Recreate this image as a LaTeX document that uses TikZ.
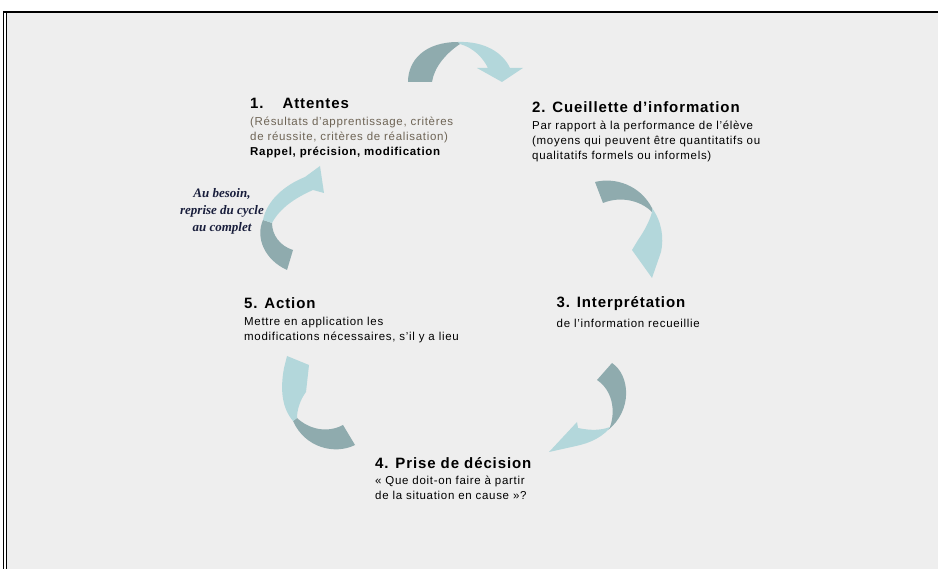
\documentclass[tikz,border=0pt]{standalone}
\usepackage{fontspec}
\setmainfont[LetterSpace=6]{Liberation Sans}
\newfontfamily\notefont{Liberation Serif}
\usepackage{tikz}

\definecolor{panelgray}{HTML}{EEEEEE}
\definecolor{tealdark}{RGB}{143,171,174}
\definecolor{teallight}{RGB}{179,215,219}
\definecolor{notegray}{RGB}{110,100,85}
\definecolor{notenavy}{RGB}{25,30,60}

\tikzset{
  steptitle/.style={anchor=base west, inner sep=0pt, font=\fontsize{15}{15}\selectfont\bfseries},
  stepbody/.style={anchor=base west, inner sep=0pt, align=left, font=\fontsize{11.5}{15}\selectfont},
  backarrow/.style={fill=tealdark, draw=none},
  frontarrow/.style={fill=teallight, draw=none}
}

\begin{document}
\begin{tikzpicture}[x=1pt,y=-1pt]
\useasboundingbox (0,0) rectangle (938,569);
\fill[white] (0,0) rectangle (938,569);
\fill[panelgray] (7,13) rectangle (938,569);
\draw[line width=2pt] (3.5,12) -- (938,12);
\draw[line width=1pt] (3.8,11) -- (3.8,569);
\draw[line width=1pt] (6.2,12) -- (6.2,569);

\fill[backarrow] (408,82) .. controls (408,60) and (425,42) .. (458,42) -- (460,44) .. controls (445,54) and (434,68) .. (432,82) -- cycle;
\fill[frontarrow] (458,42) .. controls (485,41) and (503,53) .. (510,68) -- (523,68) -- (502,82) -- (477,68) -- (488,68) .. controls (483,58) and (474,48) .. (460,44) -- cycle;

\fill[backarrow] (595,182) .. controls (615,177) and (640,185) .. (652,208) -- (652,212) .. controls (640,200) and (620,196) .. (603,203) -- cycle;
\fill[frontarrow] (652,208) .. controls (662,222) and (664,238) .. (661,252) -- (652,278) -- (632,250) -- (638,240) .. controls (645,230) and (650,220) .. (652,212) -- cycle;

\fill[backarrow] (612,363) .. controls (630,375) and (633,410) .. (608,430) -- (610,427) .. controls (616,410) and (612,390) .. (597,380) -- cycle;
\fill[frontarrow] (608,430) .. controls (600,438) and (590,443) .. (576,446) -- (549,452) -- (577,422) -- (578,428) .. controls (592,431) and (602,430) .. (610,427) -- cycle;

\fill[backarrow] (355,445) .. controls (335,455) and (305,448) .. (293,421) -- (297,418) .. controls (310,430) and (328,433) .. (343,425) -- cycle;
\fill[frontarrow] (293,421) .. controls (282,408) and (280,390) .. (284,368) -- (287,356) -- (309,365) -- (306,392) .. controls (300,400) and (297,410) .. (297,418) -- cycle;

\fill[backarrow] (287,270) .. controls (265,260) and (255,238) .. (263,220) -- (272,223) .. controls (272,235) and (280,246) .. (293,250) -- cycle;
\fill[frontarrow] (263,220) .. controls (267,200) and (285,185) .. (305,177) -- (320,166) -- (324,193) -- (313,190) .. controls (295,198) and (280,208) .. (272,223) -- cycle;

\node[steptitle] (att) at (250,108.5) {1.\hspace{19pt}Attentes};
\node[stepbody, text=notegray] (atttext) at (250,140.5) {(Résultats d'apprentissage, critères\\de réussite, critères de réalisation)};
\node[stepbody, font=\fontsize{11.5}{15}\selectfont\bfseries] (attrap) at (250,155.5) {Rappel, précision, modification};

\node[steptitle] (cue) at (532,113) {2. Cueillette d'information};
\node[stepbody] (cuetext) at (532,160) {Par rapport à la performance de l'élève\\(moyens qui peuvent être quantitatifs ou\\qualitatifs formels ou informels)};

\node[steptitle] (inter) at (556.5,308) {3. Interprétation};
\node[stepbody] (intertext) at (556.5,327.5) {de l'information recueillie};

\node[steptitle] (dec) at (375,468) {4. Prise de décision};
\node[stepbody] (dectext) at (375,500) {« Que doit-on faire à partir\\de la situation en cause »?};

\node[steptitle] (act) at (244,309) {5. Action};
\node[stepbody] (acttext) at (244,340.5) {Mettre en application les\\modifications nécessaires, s'il y a lieu};

\node[align=center, inner sep=0pt, text=notenavy, font=\notefont\bfseries\itshape\fontsize{13}{17}\selectfont] (besoin) at (222,211) {Au besoin,\\reprise du cycle\\au complet};
\end{tikzpicture}
\end{document}
